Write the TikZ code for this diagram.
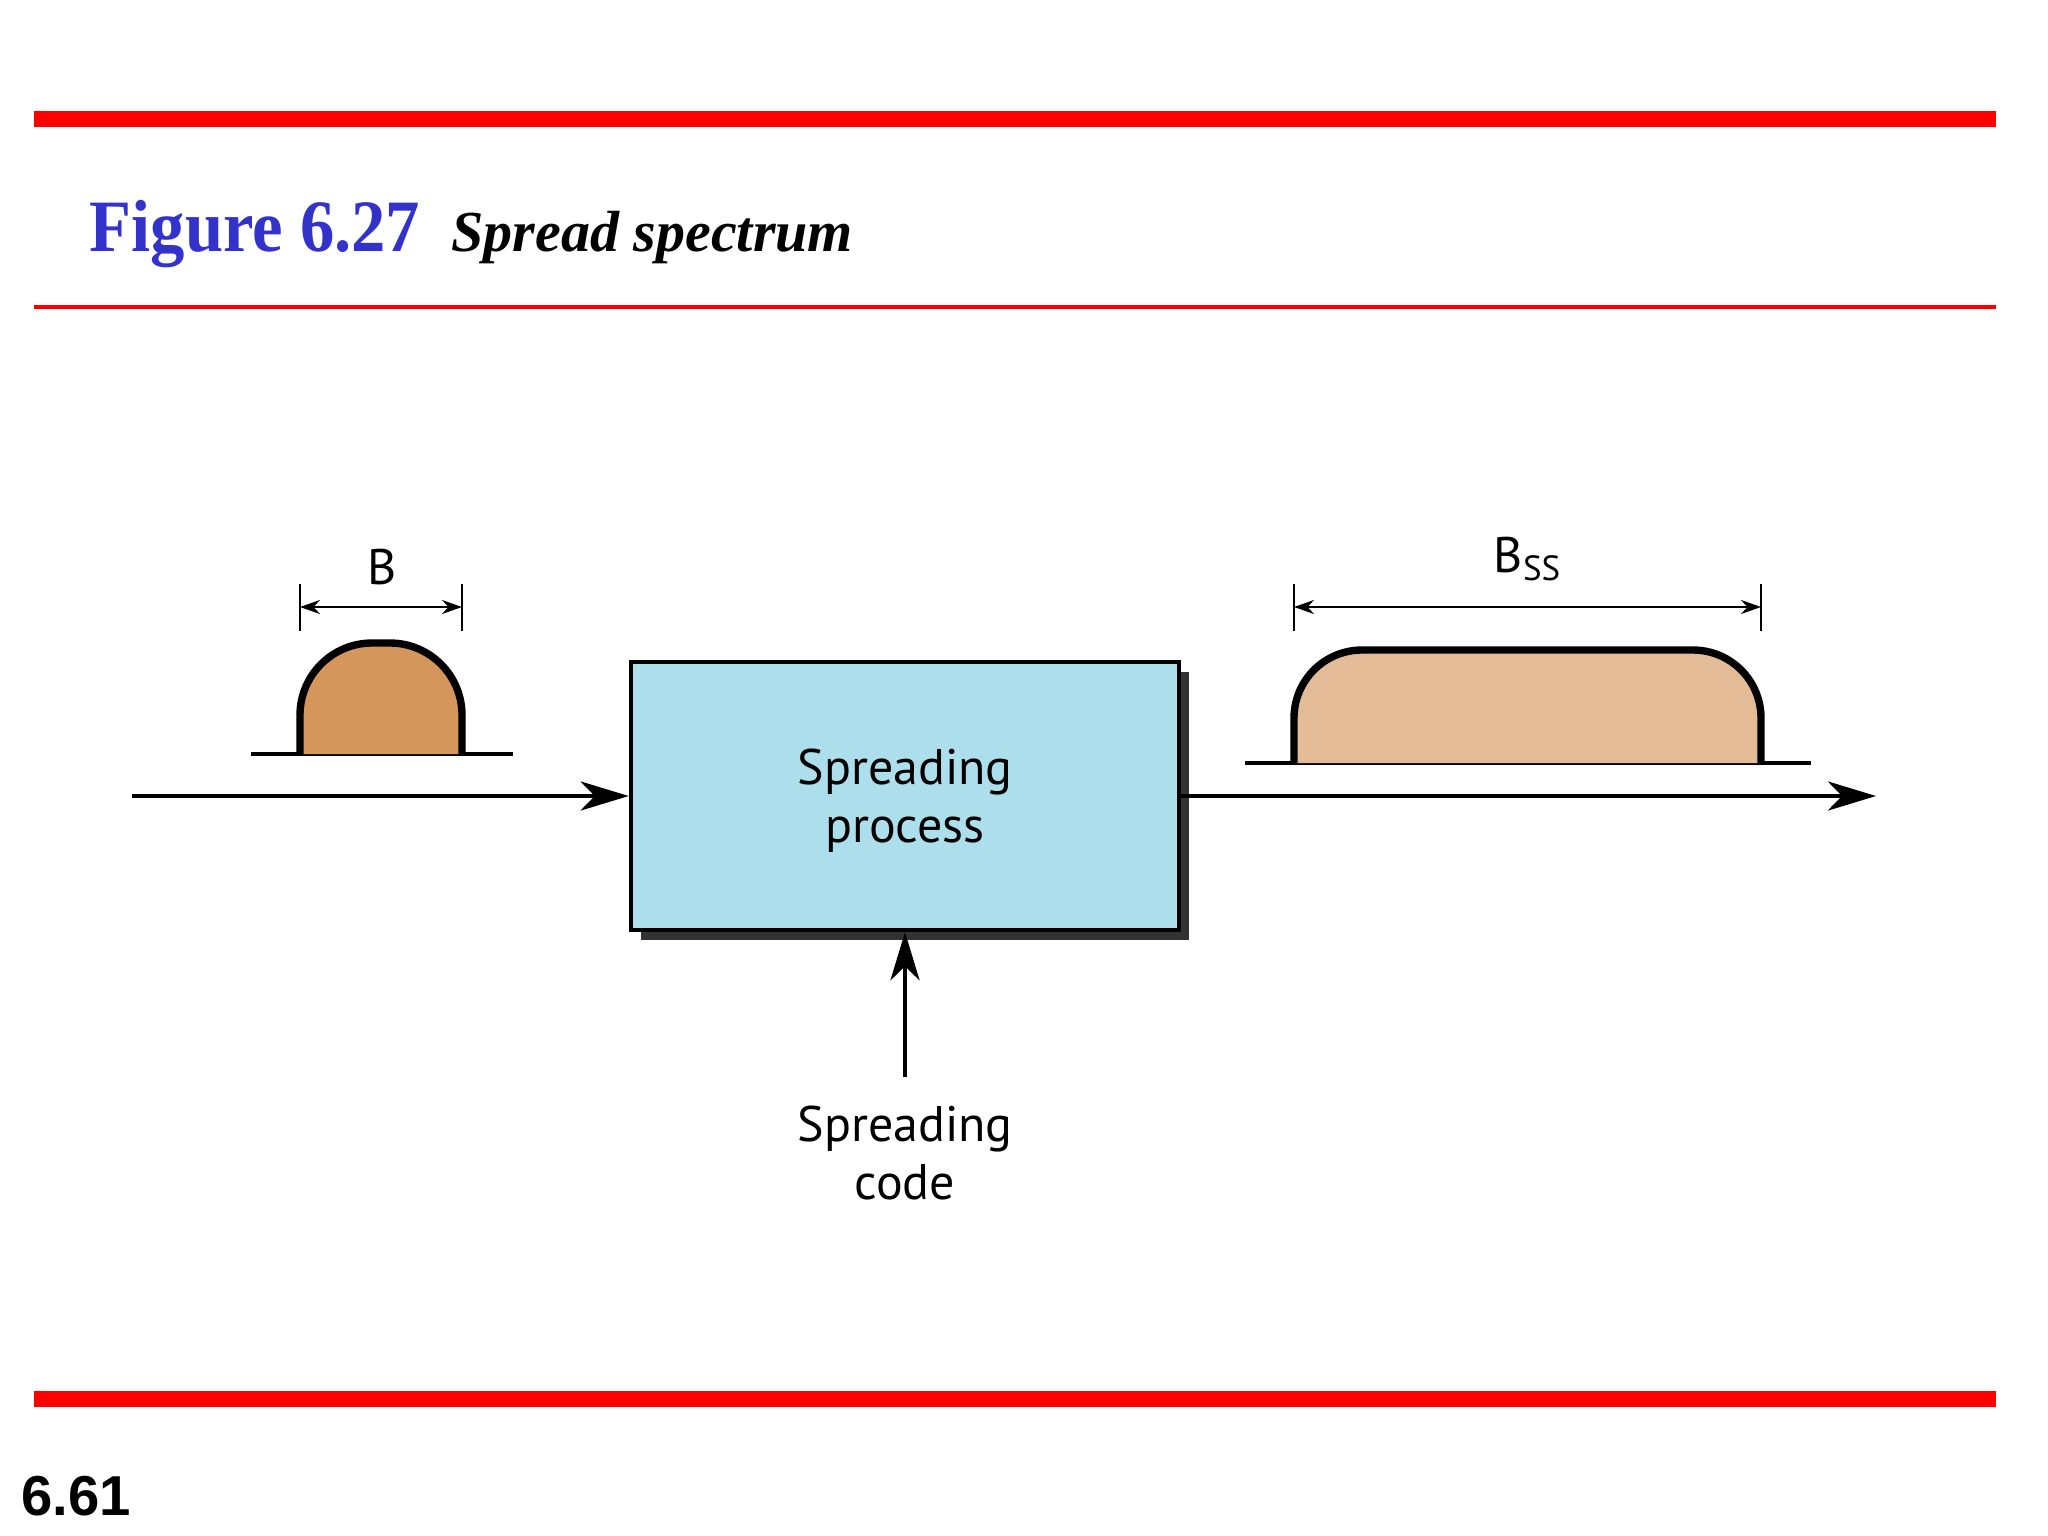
\documentclass[tikz,border=0pt]{standalone}
\usepackage{fontspec}
\setmainfont{Liberation Serif}
\newfontfamily\diagfont{PT Sans}
\newfontfamily\pagefont{Liberation Sans}
\usetikzlibrary{arrows.meta,positioning,shadows}
\definecolor{slidered}{HTML}{FF0000}
\definecolor{titleblue}{HTML}{3333CC}
\definecolor{boxblue}{HTML}{ADDEEC}
\definecolor{shadowgray}{HTML}{333333}
\definecolor{narrowfill}{HTML}{D4965A}
\definecolor{widefill}{HTML}{E3BB97}
\newcommand{\diagtext}{\diagfont\fontsize{14.2}{16.5}\selectfont}

\begin{document}
\begin{tikzpicture}[x=0.01cm,y=-0.01cm,
    flow/.style={-{Stealth[length=4.8mm,width=2.9mm,inset=1.4mm]}, line width=1.4pt},
    span/.style={{Stealth[length=2mm,width=1.4mm]}-{Stealth[length=2mm,width=1.4mm]}, line width=0.6pt},
    bump/.style={draw, line width=2.1pt, line join=round},
    axis/.style={line width=0.9pt},
    label/.style={font=\diagtext, inner sep=0pt}]
    \useasboundingbox (0,0) rectangle (2048,1536);

    \fill[slidered] (34,111) rectangle (1996,127);
    \draw[slidered, line width=1.1pt] (34,307) -- (1996,307);
    \fill[slidered] (34,1391) rectangle (1996,1407);

    \node[anchor=base west, inner sep=0pt, text=titleblue, font=\fontsize{21}{21}\selectfont\bfseries] (fig) at (89,251) {\scalebox{0.93}[1]{Figure 6.27}};
    \node[anchor=base west, inner sep=0pt, font=\fontsize{16.5}{16.5}\selectfont\bfseries\itshape] (caption) at (451,251) {Spread spectrum};
    \node[anchor=base west, inner sep=0pt, font=\pagefont\bfseries\fontsize{16}{16}\selectfont] (page) at (21,1515) {6.61};

    \node[draw, line width=1.2pt, fill=boxblue, minimum width=5.48cm, minimum height=2.68cm,
        drop shadow={shadow xshift=0.1cm, shadow yshift=-0.1cm, fill=shadowgray, opacity=1}] (box) at (905,796) {};
    \node[label, align=center] (proc) at (905,801) {Spreading\\process};
    \node[label, align=center, anchor=north] (code) at (905,1105) {Spreading\\code};

    \coordinate (in) at (132,796);
    \coordinate (out) at (1876,796);
    \draw[flow] (in) -- (box.west);
    \draw[flow] (box.east) -- (out);
    \draw[flow, shorten <=0.28cm] (code.north) -- (box.south);

    \draw[axis] (251,754) -- (513,754);
    \draw[bump, fill=narrowfill, rounded corners=0.72cm] (300,754) -- (300,643) -- (462,643) -- (462,754);
    \draw[line width=0.6pt] (300,584) -- (300,631) (462,584) -- (462,631);
    \draw[span] (300,607) -- (462,607);
    \node[label] (bw) at (382,567) {B};

    \draw[axis] (1245,763) -- (1811,763);
    \draw[bump, fill=widefill, rounded corners=0.68cm] (1294,763) -- (1294,650) -- (1761,650) -- (1761,763);
    \draw[line width=0.6pt] (1294,584) -- (1294,631) (1761,584) -- (1761,631);
    \draw[span] (1294,607) -- (1761,607);
    \node[label] (bss) at (1528,559) {B\textsubscript{SS}};
\end{tikzpicture}
\end{document}
